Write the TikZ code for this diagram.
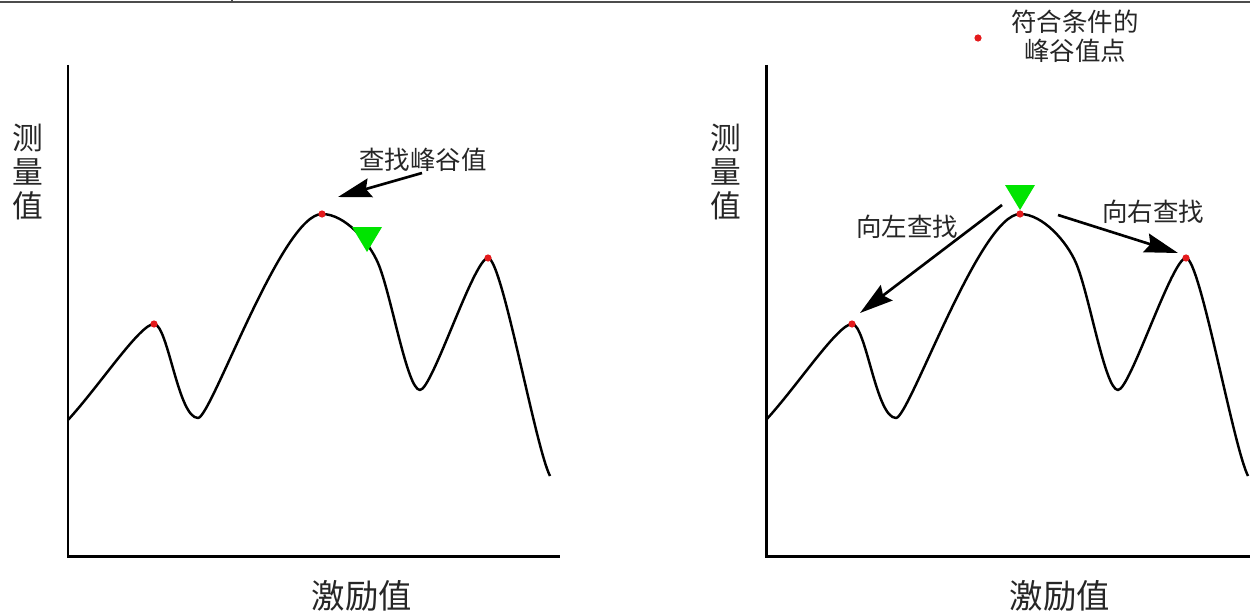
\documentclass[tikz,border=0pt]{standalone}
\usepackage{fontspec}
\setmainfont{Noto Sans CJK SC}
\usetikzlibrary{arrows.meta}

\begin{document}
\begin{tikzpicture}[x=0.02cm, y=0.02cm,
    curveLine/.style={line width=1.4pt, line join=round},
    axisLine/.style={line width=1.7pt},
    searchArrow/.style={line width=1.5pt, -{Stealth[length=19pt, width=11pt, inset=2.5pt]}},
    smallLabel/.style={font=\fontsize{14.5}{16.5}\selectfont, text=black!85},
    axisLabel/.style={font=\fontsize{19}{22}\selectfont, text=black!85}]
    % Define colours
    \definecolor{peakColour}{HTML}{E41A1C}
    \definecolor{markColour}{HTML}{00E400}

    % Define picture size
    \def\picWidth{1250}
    \def\picHeight{613}
    \useasboundingbox (0,0) rectangle (\picWidth,\picHeight);

    % Draw top border
    \draw[line width=0.8pt, black!70] (0,611) -- (\picWidth,611);
    \draw[line width=0.8pt, black!70] (232,611) -- (232,\picHeight);

    % Draw both charts, the right one shifted
    \foreach \side/\dx/\xend in {L/0/492, R/698/484} {
        \begin{scope}[shift={(\dx,0)}]
            % Axes
            \draw[axisLine] (68,548) -- (68,57) -- (68+\xend,57);

            % Key points of the curve
            \coordinate (\side-s)  at (68,193);
            \coordinate (\side-p1) at (154,289);
            \coordinate (\side-v1) at (198,195);
            \coordinate (\side-p2) at (322,399);
            \coordinate (\side-m)  at (378,350);
            \coordinate (\side-v2) at (420,223);
            \coordinate (\side-p3) at (488,355);
            \coordinate (\side-e)  at (550,137);

            % Measured curve
            \draw[curveLine] (\side-s)
                .. controls (100,228) and (140,289) .. (\side-p1)
                .. controls (168,289) and (178,195) .. (\side-v1)
                .. controls (211,195) and (282,399) .. (\side-p2)
                .. controls (345,399) and (369,371) .. (\side-m)
                .. controls (391,320) and (407,223) .. (\side-v2)
                .. controls (432,223) and (474,355) .. (\side-p3)
                .. controls (502,355) and (535,167) .. (\side-e);

            % Peak points
            \foreach \p in {p1,p2,p3}
                \fill[peakColour] (\side-\p) circle (3.6);

            % Axis labels
            \node[axisLabel] (\side-xlab) at (362,17) {激励值};
            \node[font=\fontsize{17.5}{19.5}\selectfont, text=black!85, align=center]
                (\side-ylab) at (28,441) {测\\量\\值};
        \end{scope}
    }

    % Left chart: marker and search arrow
    \fill[markColour] (352,386) -- (382,386) -- (367,361) -- cycle;
    \node[smallLabel] (findLabel) at (423,453) {查找峰谷值};
    \coordinate (findStart) at (422,440);
    \coordinate (findEnd) at (338,416);
    \draw[searchArrow] (findStart) -- (findEnd);

    % Right chart: marker and two search arrows
    \fill[markColour] (1005,428) -- (1035,428) -- (1020,403) -- cycle;
    \node[smallLabel] (leftLabel) at (907,386) {向左查找};
    \node[smallLabel] (rightLabel) at (1153,401) {向右查找};
    \coordinate (leftStart) at (1002,408);
    \coordinate (leftEnd) at (860,300);
    \coordinate (rightStart) at (1058,398);
    \coordinate (rightEnd) at (1178,360);
    \draw[searchArrow] (leftStart) -- (leftEnd);
    \draw[searchArrow] (rightStart) -- (rightEnd);

    % Legend
    \fill[peakColour] (978,575) circle (3.6);
    \node[smallLabel, align=center] (legendText) at (1075,577) {符合条件的\\峰谷值点};
\end{tikzpicture}
\end{document}
